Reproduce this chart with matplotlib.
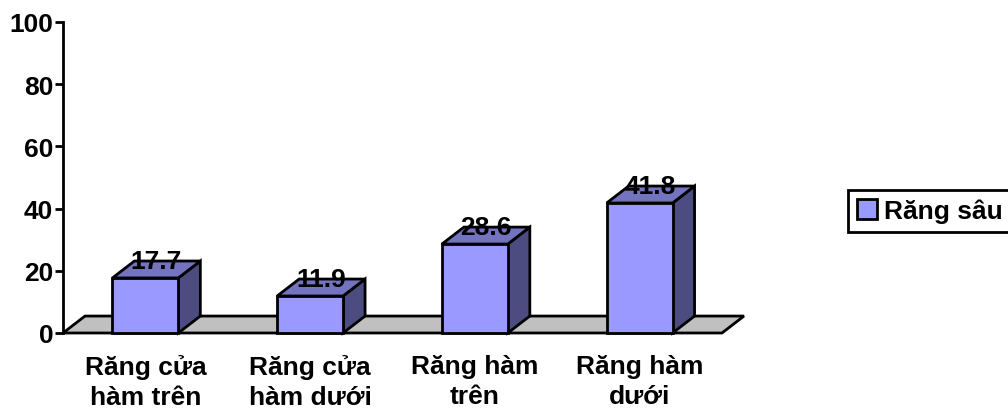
import matplotlib
matplotlib.use("Agg")
import matplotlib.pyplot as plt
from matplotlib.patches import Polygon, Rectangle

categories = ["Răng cửa\nhàm trên", "Răng cửa\nhàm dưới", "Răng hàm\ntrên", "Răng hàm\ndưới"]
values = [17.7, 11.9, 28.6, 41.8]
series_name = "Răng sâu"

plt.rcParams["font.family"] = ["Liberation Sans", "DejaVu Sans"]
plt.rcParams["font.weight"] = "bold"

front_col = "#9999FF"
side_col = "#4C4C80"
top_col = "#7373BF"
floor_col = "#C0C0C0"
fs = 19

fig = plt.figure(figsize=(10.08, 4.14), dpi=100)
ax = fig.add_axes([63 / 1008, (414 - 334) / 414, (722 - 63) / 1008, 311 / 414])

n = len(values)
w = 0.4
dx = 0.1335   # depth offset in category units
dy = 5.45     # depth offset in value units
lw = 2.0

# floor
ax.add_patch(Polygon([(0, 0), (n, 0), (n + dx, dy), (dx, dy)], closed=True,
                     facecolor=floor_col, edgecolor="black", lw=lw, clip_on=False, zorder=1))

for i, v in enumerate(values):
    x0 = i + 0.5 - w / 2
    x1 = x0 + w
    # side
    ax.add_patch(Polygon([(x1, 0), (x1 + dx, dy), (x1 + dx, v + dy), (x1, v)], closed=True,
                         facecolor=side_col, edgecolor="black", lw=lw, clip_on=False, zorder=2))
    # top
    ax.add_patch(Polygon([(x0, v), (x1, v), (x1 + dx, v + dy), (x0 + dx, v + dy)], closed=True,
                         facecolor=top_col, edgecolor="black", lw=lw, clip_on=False, zorder=2))
    # front
    ax.add_patch(Rectangle((x0, 0), w, v, facecolor=front_col, edgecolor="black",
                           lw=lw, clip_on=False, zorder=3))
    ax.text(i + 0.5 + dx / 2, v + dy, f"{v}", ha="center", va="center",
            fontsize=fs, fontweight="bold", zorder=4)

ax.set_xlim(0, n)
ax.set_ylim(0, 100)
ax.set_yticks(range(0, 101, 20))
ax.set_xticks([i + 0.5 for i in range(n)])
ax.set_xticklabels(categories, fontsize=fs, fontweight="bold", linespacing=1.3)
ax.tick_params(axis="x", length=0, pad=15)
ax.tick_params(axis="y", length=6, width=2, direction="out", labelsize=fs, pad=1)
for lab in ax.get_yticklabels():
    lab.set_fontweight("bold")

for s in ["top", "right", "bottom"]:
    ax.spines[s].set_visible(False)
ax.spines["left"].set_linewidth(2)

handle = Rectangle((0, 0), 1, 1, facecolor=front_col, edgecolor="black", lw=2)
leg = fig.legend([handle], [series_name], loc="center left",
                 bbox_to_anchor=(848 / 1008, (414 - 212) / 414),
                 fontsize=fs, frameon=True, fancybox=False, framealpha=1,
                 edgecolor="black", handlelength=0.75, handleheight=0.75,
                 handletextpad=0.25, borderpad=0.35, borderaxespad=0)
leg.get_frame().set_linewidth(2)
for t in leg.get_texts():
    t.set_fontweight("bold")

fig.savefig("out.png", dpi=100)
